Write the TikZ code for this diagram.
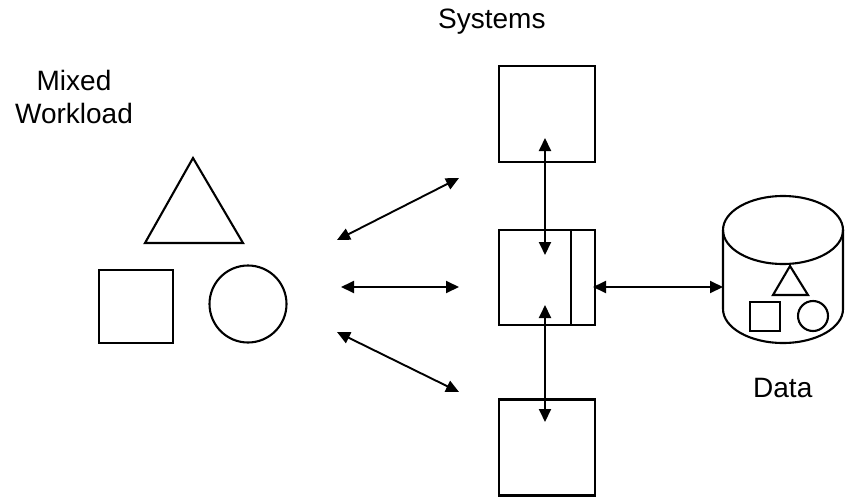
\documentclass[tikz,border=0pt]{standalone}
\usepackage{fontspec}
\setmainfont{Liberation Sans}
\usetikzlibrary{arrows.meta}
\begin{document}
\begin{tikzpicture}[x=1pt,y=-1pt,
  shape line/.style={line width=2.1pt},
  sysbox/.style={draw,line width=2.1pt,minimum width=96pt,minimum height=96pt,inner sep=0pt},
  conn/.style={line width=1.9pt,{Triangle[length=13pt,width=12pt]}-{Triangle[length=13pt,width=12pt]}},
  lbl/.style={font=\fontsize{28}{33}\selectfont,inner sep=0pt}
]
\useasboundingbox (0,0) rectangle (845,498);
% labels
\node[lbl,anchor=base west] (systems) at (438,28) {Systems};
\node[lbl,anchor=base,align=center] (mixed) at (74,123) {Mixed\\Workload};
\node[lbl,anchor=base west] (data) at (753,397) {Data};
% workload shapes
\draw[shape line,line join=miter] (193,158) -- (243,243) -- (145,243) -- cycle;
\draw[shape line] (99,270) rectangle (173,343);
\draw[shape line] (248,304) circle[radius=38.5];
% systems
\node[sysbox] (sys1) at (547,114) {};
\node[sysbox,minimum height=95pt] (sys2) at (547,277.5) {};
\node[sysbox] (sys3) at (547,447.5) {};
\draw[line width=2.1pt] (571,230) -- (571,325);
% cylinder
\draw[shape line] (783,230) ellipse[x radius=60,y radius=34];
\draw[shape line] (723,230) -- (723,309) arc[start angle=180,end angle=360,x radius=60,y radius=-34] -- (843,230);
\draw[shape line,line join=miter] (790,266) -- (808,295) -- (773,295) -- cycle;
\draw[shape line] (750,302) rectangle (780,331);
\draw[shape line] (813,316) circle[radius=15];
% connector ends
\coordinate (l1a) at (337,240); \coordinate (l1b) at (459,178);
\coordinate (l2a) at (341,287); \coordinate (l2b) at (459,287);
\coordinate (l3a) at (337,332); \coordinate (l3b) at (459,392);
\coordinate (v1a) at (545,255); \coordinate (v1b) at (545,138);
\coordinate (v2a) at (545,305); \coordinate (v2b) at (545,422);
\coordinate (ha) at (593,287); \coordinate (hb) at (723,287);
\draw[conn] (l1a) -- (l1b);
\draw[conn] (l2a) -- (l2b);
\draw[conn] (l3a) -- (l3b);
\draw[conn] (v1a) -- (v1b);
\draw[conn] (v2a) -- (v2b);
\draw[conn] (ha) -- (hb);
\end{tikzpicture}
\end{document}
